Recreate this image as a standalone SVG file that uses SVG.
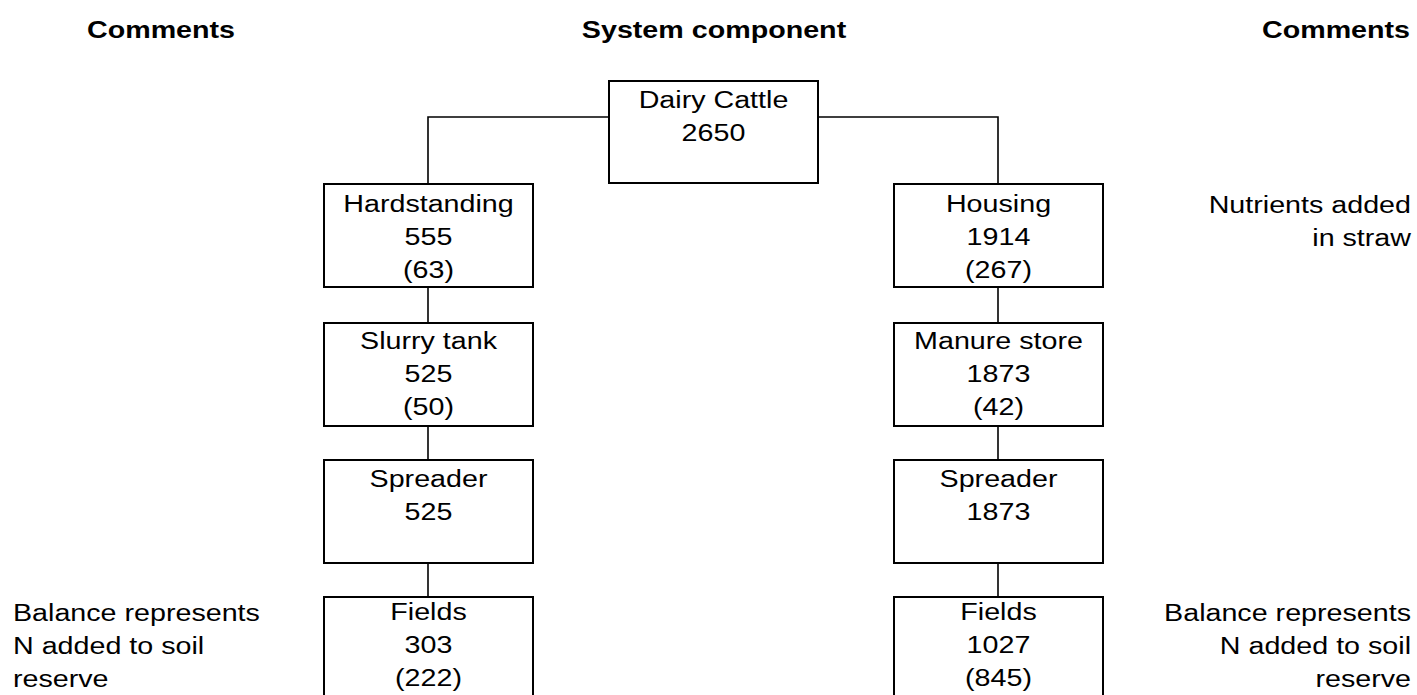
<svg xmlns="http://www.w3.org/2000/svg" width="1417" height="695" viewBox="0 0 1417 695">
<style>
text{font-family:"Liberation Sans",Arial,sans-serif;font-size:24.5px;fill:#000}
.h{font-weight:bold}
.c{text-anchor:middle}
.r{text-anchor:end}
.box{fill:#fff;stroke:#000;stroke-width:2}
.ln{fill:none;stroke:#000;stroke-width:1.6}
</style>
<rect width="1417" height="695" fill="#fff"/>
<g id="headers">
<text class="h c" transform="translate(161,38) scale(1.17,1)">Comments</text>
<text class="h c" transform="translate(714,38) scale(1.17,1)">System component</text>
<text class="h c" transform="translate(1336,38) scale(1.17,1)">Comments</text>
</g>
<g id="connectors">
<polyline class="ln" points="609,117 428,117 428,184"/>
<polyline class="ln" points="818,117 998,117 998,184"/>
<line class="ln" x1="428" y1="287" x2="428" y2="323"/>
<line class="ln" x1="428" y1="426" x2="428" y2="460"/>
<line class="ln" x1="428" y1="563" x2="428" y2="597"/>
<line class="ln" x1="998" y1="287" x2="998" y2="323"/>
<line class="ln" x1="998" y1="426" x2="998" y2="460"/>
<line class="ln" x1="998" y1="563" x2="998" y2="597"/>
</g>
<g id="dairy">
<rect class="box" x="609" y="81" width="209" height="102"/>
<text class="c" transform="translate(713.5,108) scale(1.17,1)">Dairy Cattle</text>
<text class="c" transform="translate(713.5,141) scale(1.17,1)">2650</text>
</g>
<g id="hardstanding">
<rect class="box" x="324" y="184" width="209" height="103"/>
<text class="c" transform="translate(428.5,212) scale(1.17,1)">Hardstanding</text>
<text class="c" transform="translate(428.5,245) scale(1.17,1)">555</text>
<text class="c" transform="translate(428.5,278) scale(1.17,1)">(63)</text>
</g>
<g id="slurry">
<rect class="box" x="324" y="323" width="209" height="103"/>
<text class="c" transform="translate(428.5,349) scale(1.17,1)">Slurry tank</text>
<text class="c" transform="translate(428.5,382) scale(1.17,1)">525</text>
<text class="c" transform="translate(428.5,415) scale(1.17,1)">(50)</text>
</g>
<g id="spreader-left">
<rect class="box" x="324" y="460" width="209" height="103"/>
<text class="c" transform="translate(428.5,487) scale(1.17,1)">Spreader</text>
<text class="c" transform="translate(428.5,520) scale(1.17,1)">525</text>
</g>
<g id="fields-left">
<rect class="box" x="324" y="597" width="209" height="103"/>
<text class="c" transform="translate(428.5,620) scale(1.17,1)">Fields</text>
<text class="c" transform="translate(428.5,653) scale(1.17,1)">303</text>
<text class="c" transform="translate(428.5,686) scale(1.17,1)">(222)</text>
</g>
<g id="housing">
<rect class="box" x="894" y="184" width="209" height="103"/>
<text class="c" transform="translate(998.5,212) scale(1.17,1)">Housing</text>
<text class="c" transform="translate(998.5,245) scale(1.17,1)">1914</text>
<text class="c" transform="translate(998.5,278) scale(1.17,1)">(267)</text>
</g>
<g id="manure">
<rect class="box" x="894" y="323" width="209" height="103"/>
<text class="c" transform="translate(998.5,349) scale(1.17,1)">Manure store</text>
<text class="c" transform="translate(998.5,382) scale(1.17,1)">1873</text>
<text class="c" transform="translate(998.5,415) scale(1.17,1)">(42)</text>
</g>
<g id="spreader-right">
<rect class="box" x="894" y="460" width="209" height="103"/>
<text class="c" transform="translate(998.5,487) scale(1.17,1)">Spreader</text>
<text class="c" transform="translate(998.5,520) scale(1.17,1)">1873</text>
</g>
<g id="fields-right">
<rect class="box" x="894" y="597" width="209" height="103"/>
<text class="c" transform="translate(998.5,620) scale(1.17,1)">Fields</text>
<text class="c" transform="translate(998.5,653) scale(1.17,1)">1027</text>
<text class="c" transform="translate(998.5,686) scale(1.17,1)">(845)</text>
</g>
<g id="comment-straw">
<text class="r" transform="translate(1411,213) scale(1.17,1)">Nutrients added</text>
<text class="r" transform="translate(1411,246) scale(1.17,1)">in straw</text>
</g>
<g id="comment-left">
<text transform="translate(13,621) scale(1.17,1)">Balance represents</text>
<text transform="translate(13,654) scale(1.17,1)">N added to soil</text>
<text transform="translate(13,687) scale(1.17,1)">reserve</text>
</g>
<g id="comment-right">
<text class="r" transform="translate(1411,621) scale(1.17,1)">Balance represents</text>
<text class="r" transform="translate(1411,654) scale(1.17,1)">N added to soil</text>
<text class="r" transform="translate(1411,687) scale(1.17,1)">reserve</text>
</g>
</svg>
